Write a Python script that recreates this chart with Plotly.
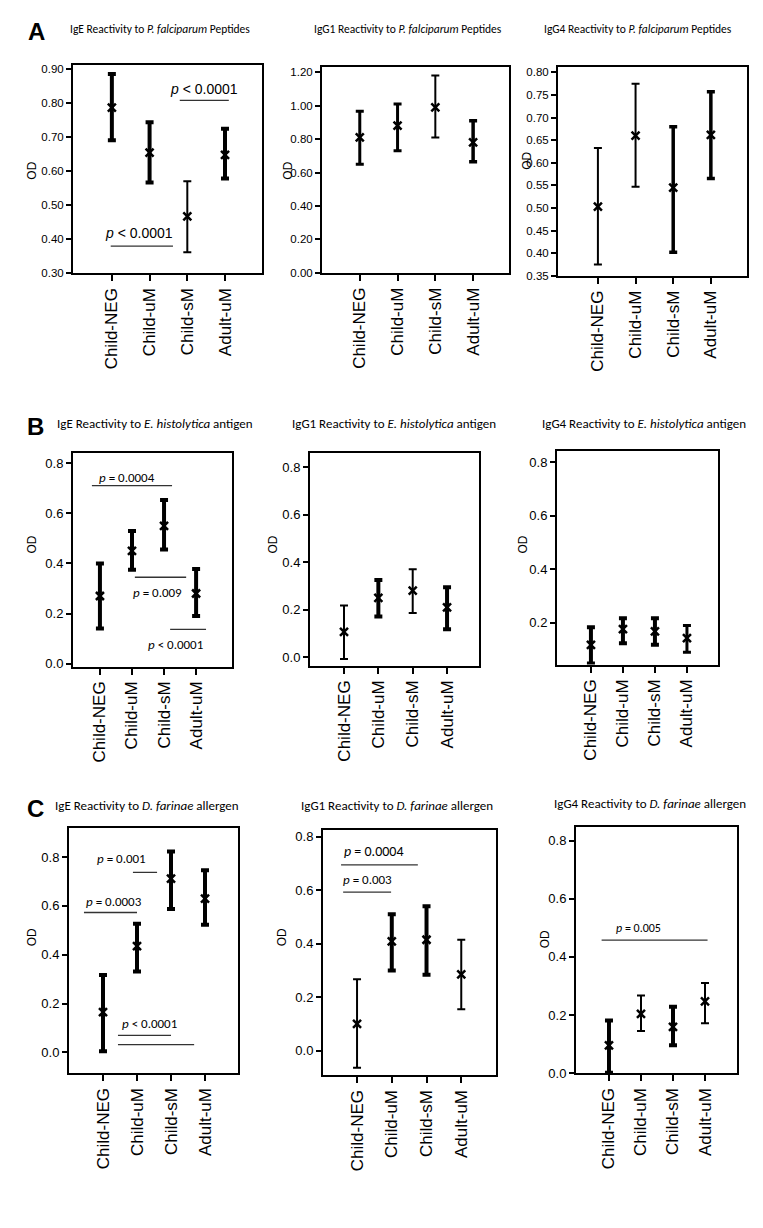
import plotly.graph_objects as go

categories = ["Child-NEG", "Child-uM", "Child-sM", "Adult-uM"]

# ---- Panel A: P. falciparum peptides ----
ige_pf_mean = [0.786, 0.654, 0.467, 0.647]
ige_pf_upper = [0.884, 0.743, 0.570, 0.724]
ige_pf_lower = [0.690, 0.566, 0.362, 0.578]

igg1_pf_mean = [0.81, 0.88, 0.99, 0.78]
igg1_pf_upper = [0.966, 1.01, 1.18, 0.91]
igg1_pf_lower = [0.65, 0.73, 0.81, 0.665]

igg4_pf_mean = [0.503, 0.66, 0.545, 0.662]
igg4_pf_upper = [0.633, 0.775, 0.68, 0.757]
igg4_pf_lower = [0.375, 0.547, 0.402, 0.565]

# ---- Panel B: E. histolytica antigen ----
ige_eh_mean = [0.27, 0.45, 0.55, 0.28]
ige_eh_upper = [0.40, 0.53, 0.654, 0.378]
ige_eh_lower = [0.14, 0.375, 0.456, 0.19]

igg1_eh_mean = [0.107, 0.25, 0.28, 0.21]
igg1_eh_upper = [0.218, 0.325, 0.37, 0.295]
igg1_eh_lower = [-0.007, 0.172, 0.186, 0.118]

igg4_eh_mean = [0.118, 0.176, 0.168, 0.143]
igg4_eh_upper = [0.183, 0.217, 0.217, 0.19]
igg4_eh_lower = [0.048, 0.124, 0.118, 0.09]

# ---- Panel C: D. farinae allergen ----
ige_df_mean = [0.165, 0.435, 0.712, 0.63]
ige_df_upper = [0.317, 0.527, 0.823, 0.746]
ige_df_lower = [0.005, 0.331, 0.587, 0.523]

igg1_df_mean = [0.10, 0.409, 0.415, 0.285]
igg1_df_upper = [0.267, 0.51, 0.54, 0.415]
igg1_df_lower = [-0.064, 0.30, 0.284, 0.155]

igg4_df_mean = [0.096, 0.204, 0.159, 0.247]
igg4_df_upper = [0.181, 0.267, 0.229, 0.31]
igg4_df_lower = [0.002, 0.145, 0.096, 0.172]

# page body has an 8px default margin; the figure fills the rest of the window
OFF = 8
W, H = 763 - OFF, 1228 - OFF


def xd(px):
    return (px - OFF) / W


def yd(py):
    return 1 - (py - OFF) / H


def steps(a, b, s):
    n = int(round((b - a) / s))
    return [round(a + i * s, 4) for i in range(n + 1)]


panels = [
    dict(title="IgE Reactivity to <i>P. falciparum</i> Peptides", tpos=(68, 27), tsize=11.5,
         box=(73, 63, 262, 273.5), xr=(-1.03, 3.98), yr=(0.30, 0.912),
         yt=steps(0.30, 0.90, 0.1), fmt="%.2f", ysize=11.5, od=(32, 170),
         mean=ige_pf_mean, up=ige_pf_upper, lo=ige_pf_lower, thick=[4, 4, 2, 4],
         pv=[("<i>p</i> < 0.0001", 2.44, 0.841, 1.80, 3.10, [0.807], 14),
             ("<i>p</i> < 0.0001", 0.72, 0.418, -0.03, 1.62, [0.380], 14)]),
    dict(title="IgG1 Reactivity to <i>P. falciparum</i> Peptides", tpos=(312, 27), tsize=11.5,
         box=(322, 65, 509, 273), xr=(-1.0, 3.95), yr=(0.0, 1.234),
         yt=steps(0.0, 1.2, 0.2), fmt="%.2f", ysize=11.5, od=(288, 170),
         mean=igg1_pf_mean, up=igg1_pf_upper, lo=igg1_pf_lower, thick=[3, 3, 2, 3.5], pv=[]),
    dict(title="IgG4 Reactivity to <i>P. falciparum</i> Peptides", tpos=(542, 27), tsize=11.5,
         box=(558, 65, 747, 276), xr=(-1.06, 3.96), yr=(0.35, 0.813),
         yt=steps(0.35, 0.80, 0.05), fmt="%.2f", ysize=11.5, od=(527, 160),
         mean=igg4_pf_mean, up=igg4_pf_upper, lo=igg4_pf_lower, thick=[2, 2, 3.5, 3.5], pv=[]),
    dict(title="IgE Reactivity to <i>E. histolytica</i> antigen", tpos=(55, 425), tsize=13,
         box=(73, 455, 232, 670), xr=(-0.84, 4.12), yr=(-0.012, 0.84),
         yt=steps(0.0, 0.8, 0.2), fmt="%.1f", ysize=13, od=(32, 547),
         mean=ige_eh_mean, up=ige_eh_upper, lo=ige_eh_lower, thick=[4, 4, 4, 4],
         pv=[("<i>p</i> = 0.0004", 0.83, 0.745, -0.25, 2.25, [0.711], 13),
             ("<i>p</i> = 0.009", 1.81, 0.285, 1.09, 2.69, [0.345], 13),
             ("<i>p</i> < 0.0001", 2.37, 0.075, 2.19, 3.31, [0.137], 13)]),
    dict(title="IgG1 Reactivity to <i>E. histolytica</i> antigen", tpos=(290, 425), tsize=13,
         box=(310, 455, 479, 669), xr=(-0.99, 3.93), yr=(-0.035, 0.858),
         yt=steps(0.0, 0.8, 0.2), fmt="%.1f", ysize=13, od=(273, 547),
         mean=igg1_eh_mean, up=igg1_eh_upper, lo=igg1_eh_lower, thick=[2, 4, 2, 4], pv=[]),
    dict(title="IgG4 Reactivity to <i>E. histolytica</i> antigen", tpos=(540, 425), tsize=13,
         box=(557, 453, 718, 668), xr=(-1.06, 3.97), yr=(0.044, 0.84),
         yt=steps(0.2, 0.8, 0.2), fmt="%.1f", ysize=13, od=(523, 547),
         mean=igg4_eh_mean, up=igg4_eh_upper, lo=igg4_eh_lower, thick=[4, 4, 4, 3], pv=[]),
    dict(title="IgE Reactivity to <i>D. farinae</i> allergen", tpos=(53, 810), tsize=13,
         box=(69, 833, 238, 1080), xr=(-1.0, 3.97), yr=(-0.085, 0.918),
         yt=steps(0.0, 0.8, 0.2), fmt="%.1f", ysize=13, od=(32, 943),
         mean=ige_df_mean, up=ige_df_upper, lo=ige_df_lower, thick=[4, 4, 4, 4],
         pv=[("<i>p</i> = 0.001", 0.54, 0.794, 0.88, 1.59, [0.737], 13),
             ("<i>p</i> = 0.0003", 0.31, 0.617, -0.56, 1.0, [0.573], 13),
             ("<i>p</i> < 0.0001", 1.37, 0.118, 0.44, 2.0, [0.070], 13),
             ("", 1.37, 0.118, 0.44, 2.68, [0.032], 13)]),
    dict(title="IgG1 Reactivity to <i>D. farinae</i> allergen", tpos=(299, 810), tsize=13,
         box=(323, 835, 496, 1082), xr=(-0.98, 4.0), yr=(-0.092, 0.825),
         yt=steps(0.0, 0.8, 0.2), fmt="%.1f", ysize=13, od=(282, 943),
         mean=igg1_df_mean, up=igg1_df_upper, lo=igg1_df_lower, thick=[2, 4, 4, 2],
         pv=[("<i>p</i> = 0.0004", 0.50, 0.744, -0.46, 1.75, [0.695], 14),
             ("<i>p</i> = 0.003", 0.30, 0.639, -0.40, 0.98, [0.593], 13)]),
    dict(title="IgG4 Reactivity to <i>D. farinae</i> allergen", tpos=(552, 808), tsize=13,
         box=(576, 832, 737, 1080), xr=(-1.03, 4.0), yr=(0.0, 0.846),
         yt=steps(0.0, 0.8, 0.2), fmt="%.1f", ysize=13, od=(545, 945),
         mean=igg4_df_mean, up=igg4_df_upper, lo=igg4_df_lower, thick=[4, 2, 4, 2],
         pv=[("<i>p</i> = 0.005", 0.91, 0.499, -0.23, 3.08, [0.458], 12)]),
]

NARROW = "Liberation Sans Narrow, Arial Narrow, Liberation Sans, sans-serif"
ARIAL = "Liberation Sans, Arial, sans-serif"
TFONT = "Liberation Sans Narrow, Carlito, Lato, sans-serif"

fig = go.Figure()
layout = dict(width=W, height=H, margin=dict(l=0, r=0, t=0, b=0),
              plot_bgcolor="white", paper_bgcolor="white", showlegend=False)
annotations = []
shapes = []

for i, p in enumerate(panels):
    n = "" if i == 0 else str(i + 1)
    xa, ya = "x" + n, "y" + n
    x0, y0, x1, y1 = p["box"]
    layout["xaxis" + n] = dict(
        domain=[xd(x0), xd(x1)], range=list(p["xr"]), anchor=ya,
        tickmode="array", tickvals=list(range(len(categories))), ticktext=categories,
        tickangle=-90, ticks="outside", ticklen=6, tickwidth=1.5, tickcolor="black",
        showline=True, linecolor="black", linewidth=2, mirror=True,
        showgrid=False, zeroline=False,
        tickfont=dict(family=ARIAL, size=17, color="black"))
    layout["yaxis" + n] = dict(
        domain=[yd(y1), yd(y0)], range=list(p["yr"]), anchor=xa,
        tickmode="array", tickvals=p["yt"], ticktext=[p["fmt"] % v for v in p["yt"]],
        ticks="outside", ticklen=5, tickwidth=1.5, tickcolor="black",
        showline=True, linecolor="black", linewidth=2, mirror=True,
        showgrid=False, zeroline=False,
        tickfont=dict(family=NARROW, size=p["ysize"], color="black"))

    for k, cat in enumerate(categories):
        m, u, l = p["mean"][k], p["up"][k], p["lo"][k]
        fig.add_trace(go.Scatter(
            x=[k], y=[m], mode="markers", xaxis=xa, yaxis=ya,
            name=cat, hoverinfo="y",
            marker=dict(symbol="x-thin", size=8, color="black",
                        line=dict(color="black", width=2.5)),
            error_y=dict(type="data", symmetric=False, array=[u - m],
                         arrayminus=[m - l], color="black",
                         thickness=p["thick"][k], width=4)))

    # panel title
    annotations.append(dict(
        x=xd(p["tpos"][0]), y=yd(p["tpos"][1]), xref="paper", yref="paper",
        xanchor="left", yanchor="middle", showarrow=False, text=p["title"],
        font=dict(family=TFONT, size=p["tsize"], color="black")))
    # OD axis title
    annotations.append(dict(
        x=xd(p["od"][0]), y=yd(p["od"][1]), xref="paper", yref="paper",
        xanchor="center", yanchor="middle", showarrow=False, text="OD",
        textangle=-90, font=dict(family=ARIAL, size=12, color="black")))
    # p-value brackets
    for (txt, tx, ty, lx0, lx1, lys, fs) in p["pv"]:
        if txt:
            annotations.append(dict(
                x=tx, y=ty, xref=xa, yref=ya, showarrow=False, text=txt,
                xanchor="center", yanchor="middle",
                font=dict(family=ARIAL if i < 3 else TFONT, size=fs, color="black")))
        for ly in lys:
            shapes.append(dict(type="line", xref=xa, yref=ya, x0=lx0, x1=lx1,
                               y0=ly, y1=ly, line=dict(color="#333333", width=1.3)))

for letter, (lx, ly) in zip(["A", "B", "C"], [(36, 30), (35, 428), (35, 813)]):
    annotations.append(dict(
        x=xd(lx), y=yd(ly), xref="paper", yref="paper", xanchor="center",
        yanchor="middle", showarrow=False, text="<b>%s</b>" % letter,
        font=dict(family=ARIAL, size=24, color="black")))

layout["annotations"] = annotations
layout["shapes"] = shapes
fig.update_layout(**layout)
fig.write_html("out.html")
